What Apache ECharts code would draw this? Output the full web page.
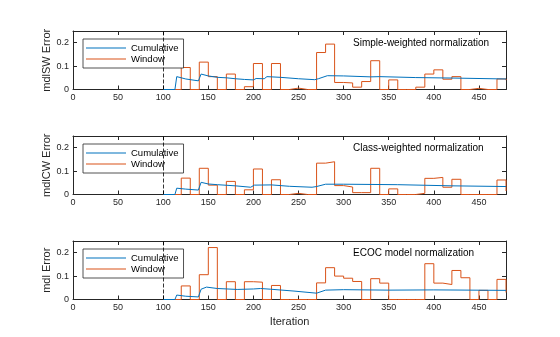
<!DOCTYPE html>
<html><head><meta charset="utf-8">
<script src="https://cdn.jsdelivr.net/npm/echarts@6/dist/echarts.min.js"></script>
<style>html,body{margin:0;padding:0;background:#fff}#c{width:560px;height:337px}</style>
</head><body><div id="c"></div>
<script>
// ---- data ----
const windowIter = [100,110,120,130,140,150,160,170,180,190,200,210,220,230,240,250,260,270,280,290,300,310,320,330,340,350,360,370,380,390,400,410,420,430,440,450,460,470,480];
const p1Window = [0,0,0.094,0,0.117,0.055,0,0.066,0,0.012,0.111,0,0.111,0,0.006,0,0,0.158,0.194,0.03,0.028,0.01,0.034,0.123,0,0.041,0,0,0.01,0.066,0.084,0.044,0.055,0,0.005,0,0,0.045,0.04];
const p2Window = [0,0,0.07,0,0.112,0.04,0,0.056,0,0.02,0.109,0,0.063,0,0.005,0,0,0.134,0.14,0.038,0.032,0.008,0.008,0.112,0,0.024,0,0,0.005,0.069,0.073,0.031,0.065,0,0,0,0,0.062,0.015];
const p3Window = [0,0,0.058,0,0.106,0.222,0,0.076,0,0.076,0.074,0,0.06,0,0,0,0,0.071,0.136,0.1,0.091,0.077,0,0.089,0.07,0,0,0,0,0.153,0.07,0.064,0.124,0.093,0,0.039,0,0.086,0.03];

const p1CumIter = [100,113,115,125,139,142,150,160,170,180,190,200,203,212,215,230,250,268,272,282,300,330,340,380,420,480];
const p1CumVal  = [0,0,0.055,0.045,0.037,0.066,0.058,0.052,0.05,0.046,0.043,0.041,0.047,0.046,0.055,0.052,0.046,0.042,0.046,0.059,0.058,0.054,0.055,0.051,0.049,0.045];
const p2CumIter = [100,113,115,125,139,142,150,160,180,197,201,220,240,265,270,280,300,360,420,480];
const p2CumVal  = [0,0,0.027,0.023,0.019,0.052,0.045,0.042,0.037,0.031,0.04,0.041,0.035,0.031,0.034,0.044,0.044,0.042,0.037,0.034];
const p3CumIter = [100,113,115,125,139,142,148,160,182,200,208,219,245,270,280,300,350,400,480];
const p3CumVal  = [0,0,0.019,0.014,0.011,0.044,0.053,0.047,0.043,0.045,0.047,0.044,0.036,0.027,0.04,0.042,0.04,0.041,0.039];

const panelTitles = ['Simple-weighted normalization','Class-weighted normalization','ECOC model normalization'];
const yNames = ['mdlSW Error','mdlCW Error','mdl Error'];
const xLabel = 'Iteration';
const legendNames = ['Cumulative','Window'];

// ---- chart ----
const FONT = '"Liberation Sans", Arial, Helvetica, sans-serif';
const AX = '#262626';
const BLUE = '#0072BD', ORANGE = '#D95319';
const tops = [31, 136, 241];
const H = 58.5;
const windows = [p1Window, p2Window, p3Window];
const cums = [[p1CumIter,p1CumVal],[p2CumIter,p2CumVal],[p3CumIter,p3CumVal]];

const grid = [], xAxis = [], yAxis = [], series = [], legend = [], title = [];
tops.forEach((t, k) => {
  grid.push({left: 73, right: 54, top: t, height: H, containLabel: false});
  const axLine = {show: true, onZero: false, lineStyle: {color: AX, width: 1}};
  const tick = {show: true, inside: true, length: 4, lineStyle: {color: AX, width: 1}};
  xAxis.push({
    gridIndex: k, type: 'value', min: 0, max: 480, interval: 50, position: 'bottom',
    axisLine: axLine, axisTick: tick, splitLine: {show: false},
    axisLabel: {fontSize: 9, color: AX, fontFamily: FONT, margin: 4, showMaxLabel: false},
    name: k === 2 ? xLabel : '', nameLocation: 'middle', nameGap: 17, nameMoveOverlap: false,
    nameTextStyle: {fontSize: 11, color: AX, fontFamily: FONT}
  });
  xAxis.push({
    gridIndex: k, type: 'value', min: 0, max: 480, interval: 50, position: 'top',
    axisLine: axLine, axisTick: tick, splitLine: {show: false}, axisLabel: {show: false}
  });
  yAxis.push({
    gridIndex: k, type: 'value', min: 0, max: 0.25, interval: 0.1, position: 'left',
    axisLine: axLine, axisTick: tick, splitLine: {show: false},
    axisLabel: {fontSize: 9, color: AX, fontFamily: FONT, margin: 4, showMaxLabel: false},
    name: yNames[k], nameLocation: 'middle', nameGap: 21, nameMoveOverlap: false,
    nameTextStyle: {fontSize: 11, color: AX, fontFamily: FONT}
  });
  yAxis.push({
    gridIndex: k, type: 'value', min: 0, max: 0.25, interval: 0.1, position: 'right',
    axisLine: axLine, axisTick: tick, splitLine: {show: false}, axisLabel: {show: false}
  });
  const [ci, cv] = cums[k];
  series.push({
    name: legendNames[0], type: 'line', xAxisIndex: 2*k, yAxisIndex: 2*k,
    data: ci.map((x, i) => [x, cv[i]]), showSymbol: false, symbol: 'none',
    lineStyle: {color: BLUE, width: 1}, itemStyle: {color: BLUE}, z: 3, animation: false,
    markLine: {silent: true, symbol: 'none', label: {show: false},
      lineStyle: {color: '#000', type: [4, 2], width: 0.8},
      data: [{xAxis: 100}]}
  });
  series.push({
    name: legendNames[1], type: 'line', xAxisIndex: 2*k, yAxisIndex: 2*k, step: 'end',
    data: windowIter.map((x, i) => [x, windows[k][i]]), showSymbol: false, symbol: 'none',
    lineStyle: {color: ORANGE, width: 1}, itemStyle: {color: ORANGE}, z: 2, animation: false
  });
  legend.push({
    data: legendNames, orient: 'vertical', left: 83, top: t + 8,
    backgroundColor: '#fff', borderColor: AX, borderWidth: 0.8, borderRadius: 0,
    padding: [4, 5, 4, 3], itemGap: 1, itemWidth: 40, itemHeight: 1, icon: 'rect',
    textStyle: {fontSize: 9.5, color: '#000', fontFamily: FONT, padding: [0,0,0,0]},
    selectedMode: false
  });
  title.push({
    text: panelTitles[k], left: 353, top: t + 7, padding: 0,
    textStyle: {fontSize: 10, fontWeight: 'normal', color: '#000', fontFamily: FONT}
  });
});

const chart = echarts.init(document.getElementById('c'), null, {renderer: 'canvas'});
chart.setOption({animation: false, backgroundColor: '#fff', grid, xAxis, yAxis, series, legend, title});
</script>
</body></html>
